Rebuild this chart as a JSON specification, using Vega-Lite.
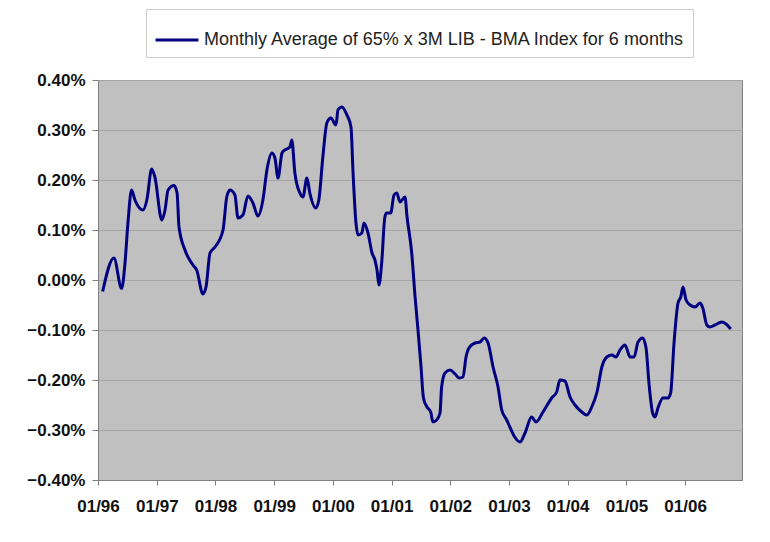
{
  "$schema": "https://vega.github.io/schema/vega-lite/v6.json",
  "width": 644,
  "height": 400,
  "autosize": {"type": "none"},
  "padding": {"left": 98, "top": 80, "right": 28, "bottom": 62},
  "background": "white",
  "config": {
    "font": "Liberation Sans",
    "view": {"fill": "#C0C0C0", "stroke": "#808080", "strokeWidth": 1},
    "axis": {"labelFont": "Liberation Sans", "labelFontWeight": "bold", "labelColor": "#111111", "labelFontSize": 17, "domainColor": "#808080", "tickColor": "#808080", "gridColor": "#A4A4A4", "gridWidth": 1}
  },
  "data": {
    "values": [
      {"date": "1996-01-30", "spread": -0.023},
      {"date": "1996-04-09", "spread": 0.044},
      {"date": "1996-05-27", "spread": -0.017},
      {"date": "1996-06-17", "spread": 0.034},
      {"date": "1996-07-05", "spread": 0.113},
      {"date": "1996-07-28", "spread": 0.180},
      {"date": "1996-08-18", "spread": 0.160},
      {"date": "1996-10-07", "spread": 0.140},
      {"date": "1996-10-31", "spread": 0.160},
      {"date": "1996-11-30", "spread": 0.222},
      {"date": "1996-12-20", "spread": 0.206},
      {"date": "1997-02-01", "spread": 0.120},
      {"date": "1997-02-21", "spread": 0.140},
      {"date": "1997-03-12", "spread": 0.180},
      {"date": "1997-04-18", "spread": 0.189},
      {"date": "1997-05-07", "spread": 0.174},
      {"date": "1997-05-19", "spread": 0.106},
      {"date": "1997-06-25", "spread": 0.060},
      {"date": "1997-08-14", "spread": 0.030},
      {"date": "1997-09-06", "spread": 0.020},
      {"date": "1997-10-15", "spread": -0.028},
      {"date": "1997-11-03", "spread": -0.014},
      {"date": "1997-11-28", "spread": 0.054},
      {"date": "1997-12-29", "spread": 0.066},
      {"date": "1998-02-17", "spread": 0.100},
      {"date": "1998-03-12", "spread": 0.166},
      {"date": "1998-04-01", "spread": 0.180},
      {"date": "1998-05-02", "spread": 0.170},
      {"date": "1998-05-21", "spread": 0.124},
      {"date": "1998-06-21", "spread": 0.130},
      {"date": "1998-07-22", "spread": 0.168},
      {"date": "1998-08-22", "spread": 0.154},
      {"date": "1998-09-22", "spread": 0.128},
      {"date": "1998-10-23", "spread": 0.160},
      {"date": "1998-11-17", "spread": 0.220},
      {"date": "1998-12-18", "spread": 0.254},
      {"date": "1999-01-06", "spread": 0.244},
      {"date": "1999-01-25", "spread": 0.204},
      {"date": "1999-02-19", "spread": 0.254},
      {"date": "1999-03-09", "spread": 0.260},
      {"date": "1999-04-09", "spread": 0.266},
      {"date": "1999-04-21", "spread": 0.280},
      {"date": "1999-05-10", "spread": 0.214},
      {"date": "1999-06-10", "spread": 0.174},
      {"date": "1999-06-29", "spread": 0.166},
      {"date": "1999-07-24", "spread": 0.204},
      {"date": "1999-08-11", "spread": 0.174},
      {"date": "1999-09-17", "spread": 0.144},
      {"date": "1999-10-06", "spread": 0.160},
      {"date": "1999-10-31", "spread": 0.246},
      {"date": "1999-11-25", "spread": 0.314},
      {"date": "1999-12-20", "spread": 0.324},
      {"date": "2000-01-21", "spread": 0.310},
      {"date": "2000-02-02", "spread": 0.340},
      {"date": "2000-02-27", "spread": 0.346},
      {"date": "2000-03-29", "spread": 0.330},
      {"date": "2000-04-23", "spread": 0.306},
      {"date": "2000-05-06", "spread": 0.214},
      {"date": "2000-05-24", "spread": 0.114},
      {"date": "2000-06-06", "spread": 0.090},
      {"date": "2000-06-30", "spread": 0.094},
      {"date": "2000-07-13", "spread": 0.114},
      {"date": "2000-08-07", "spread": 0.094},
      {"date": "2000-09-01", "spread": 0.054},
      {"date": "2000-09-19", "spread": 0.040},
      {"date": "2000-10-02", "spread": 0.020},
      {"date": "2000-10-14", "spread": -0.010},
      {"date": "2000-10-31", "spread": 0.034},
      {"date": "2000-11-20", "spread": 0.126},
      {"date": "2000-12-01", "spread": 0.134},
      {"date": "2000-12-26", "spread": 0.134},
      {"date": "2001-01-16", "spread": 0.170},
      {"date": "2001-02-02", "spread": 0.174},
      {"date": "2001-02-22", "spread": 0.156},
      {"date": "2001-03-25", "spread": 0.166},
      {"date": "2001-04-07", "spread": 0.126},
      {"date": "2001-05-06", "spread": 0.054},
      {"date": "2001-05-27", "spread": -0.034},
      {"date": "2001-06-14", "spread": -0.100},
      {"date": "2001-07-02", "spread": -0.170},
      {"date": "2001-07-18", "spread": -0.236},
      {"date": "2001-08-09", "spread": -0.254},
      {"date": "2001-09-01", "spread": -0.264},
      {"date": "2001-09-15", "spread": -0.284},
      {"date": "2001-10-08", "spread": -0.280},
      {"date": "2001-10-29", "spread": -0.266},
      {"date": "2001-11-08", "spread": -0.214},
      {"date": "2001-11-29", "spread": -0.186},
      {"date": "2001-12-30", "spread": -0.180},
      {"date": "2002-01-31", "spread": -0.188},
      {"date": "2002-02-24", "spread": -0.196},
      {"date": "2002-03-21", "spread": -0.194},
      {"date": "2002-04-09", "spread": -0.154},
      {"date": "2002-04-27", "spread": -0.136},
      {"date": "2002-06-04", "spread": -0.126},
      {"date": "2002-07-05", "spread": -0.124},
      {"date": "2002-07-30", "spread": -0.116},
      {"date": "2002-08-24", "spread": -0.126},
      {"date": "2002-09-24", "spread": -0.174},
      {"date": "2002-10-25", "spread": -0.214},
      {"date": "2002-11-17", "spread": -0.260},
      {"date": "2002-12-18", "spread": -0.280},
      {"date": "2003-01-08", "spread": -0.295},
      {"date": "2003-02-08", "spread": -0.315},
      {"date": "2003-03-11", "spread": -0.324},
      {"date": "2003-04-11", "spread": -0.306},
      {"date": "2003-05-22", "spread": -0.274},
      {"date": "2003-06-18", "spread": -0.284},
      {"date": "2003-08-01", "spread": -0.264},
      {"date": "2003-09-24", "spread": -0.236},
      {"date": "2003-10-25", "spread": -0.224},
      {"date": "2003-11-14", "spread": -0.200},
      {"date": "2003-12-15", "spread": -0.202},
      {"date": "2004-01-16", "spread": -0.234},
      {"date": "2004-02-16", "spread": -0.250},
      {"date": "2004-03-29", "spread": -0.264},
      {"date": "2004-04-29", "spread": -0.270},
      {"date": "2004-05-30", "spread": -0.254},
      {"date": "2004-07-02", "spread": -0.224},
      {"date": "2004-08-01", "spread": -0.174},
      {"date": "2004-09-01", "spread": -0.154},
      {"date": "2004-10-02", "spread": -0.150},
      {"date": "2004-10-28", "spread": -0.154},
      {"date": "2004-11-22", "spread": -0.140},
      {"date": "2004-12-23", "spread": -0.130},
      {"date": "2005-01-24", "spread": -0.154},
      {"date": "2005-02-18", "spread": -0.154},
      {"date": "2005-03-14", "spread": -0.124},
      {"date": "2005-04-12", "spread": -0.116},
      {"date": "2005-05-03", "spread": -0.136},
      {"date": "2005-05-21", "spread": -0.206},
      {"date": "2005-06-13", "spread": -0.266},
      {"date": "2005-06-28", "spread": -0.274},
      {"date": "2005-07-16", "spread": -0.256},
      {"date": "2005-08-16", "spread": -0.236},
      {"date": "2005-09-16", "spread": -0.236},
      {"date": "2005-10-03", "spread": -0.226},
      {"date": "2005-10-24", "spread": -0.126},
      {"date": "2005-11-18", "spread": -0.046},
      {"date": "2005-12-05", "spread": -0.034},
      {"date": "2005-12-19", "spread": -0.014},
      {"date": "2006-01-07", "spread": -0.040},
      {"date": "2006-02-01", "spread": -0.050},
      {"date": "2006-03-04", "spread": -0.054},
      {"date": "2006-04-04", "spread": -0.046},
      {"date": "2006-04-21", "spread": -0.056},
      {"date": "2006-05-16", "spread": -0.090},
      {"date": "2006-06-05", "spread": -0.094},
      {"date": "2006-07-06", "spread": -0.090},
      {"date": "2006-08-17", "spread": -0.084},
      {"date": "2006-09-13", "spread": -0.088},
      {"date": "2006-10-12", "spread": -0.098}
    ]
  },
  "mark": {"type": "line", "interpolate": "monotone", "strokeWidth": 3, "clip": true},
  "encoding": {
    "x": {
      "field": "date",
      "type": "temporal",
      "scale": {"domain": ["1996-01-01", "2006-12-21"]},
      "axis": {
        "title": null,
        "format": "%m/%y",
        "tickCount": {"interval": "year", "step": 1},
        "grid": false,
        "tickSize": 5,
        "labelPadding": 13,
        "labelFlush": false,
        "labelOverlap": false
      }
    },
    "y": {
      "field": "spread",
      "type": "quantitative",
      "scale": {"domain": [-0.4, 0.4], "nice": false},
      "axis": {
        "title": null,
        "values": [-0.4, -0.3, -0.2, -0.1, 0, 0.1, 0.2, 0.3, 0.4],
        "labelExpr": "format(datum.value, '.2f') + '%'",
        "tickSize": 6,
        "labelPadding": 7,
        "grid": true
      }
    },
    "color": {
      "datum": "Monthly Average of 65% x 3M LIB - BMA Index for 6 months",
      "type": "nominal",
      "scale": {"range": ["#000080"]},
      "legend": {
        "title": null,
        "orient": "none",
        "legendX": 48,
        "legendY": -71,
        "symbolType": "stroke",
        "symbolSize": 1849,
        "symbolStrokeWidth": 3,
        "labelFontSize": 18,
        "labelFont": "Liberation Sans",
        "labelColor": "#222222",
        "labelLimit": 700,
        "labelOffset": 4,
        "padding": 8,
        "fillColor": "white",
        "strokeColor": "#CCCCCC"
      }
    }
  }
}
